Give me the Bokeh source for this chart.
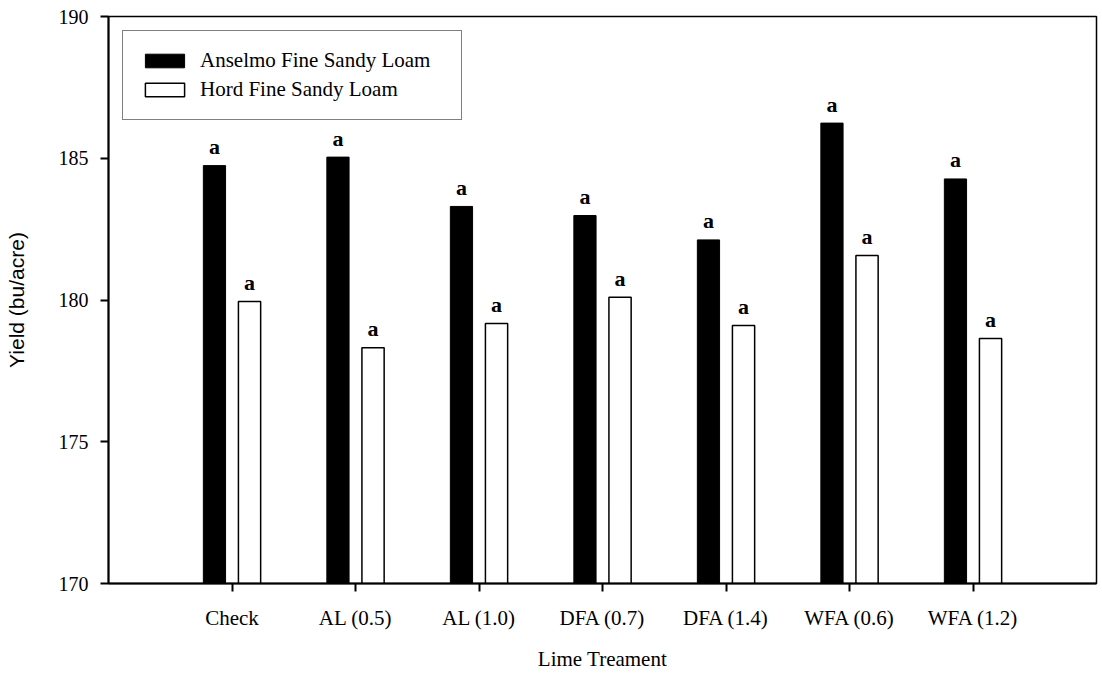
from bokeh.plotting import figure
from bokeh.models import ColumnDataSource, Range1d, FixedTicker, Legend, LegendItem
from bokeh.transform import dodge
from bokeh.core.properties import value
from bokeh.embed import file_html
from bokeh.resources import INLINE

# ---- data ----
treatments = ["Check", "AL (0.5)", "AL (1.0)", "DFA (0.7)", "DFA (1.4)", "WFA (0.6)", "WFA (1.2)"]
anselmo = [184.74, 185.04, 183.30, 182.98, 182.12, 186.24, 184.27]
hord = [179.95, 178.32, 179.17, 180.10, 179.10, 181.57, 178.64]
anselmo_letters = ["a", "a", "a", "a", "a", "a", "a"]
hord_letters = ["a", "a", "a", "a", "a", "a", "a"]
series_names = ["Anselmo Fine Sandy Loam", "Hord Fine Sandy Loam"]
y_ticks = [170, 175, 180, 185, 190]

positions = list(range(1, len(treatments) + 1))

src = ColumnDataSource(dict(
    x=positions, anselmo=anselmo, hord=hord,
    la=anselmo_letters, lh=hord_letters,
))

SERIF = "Liberation Serif"

p = figure(
    width=1100, height=673,
    x_range=Range1d(0, len(treatments) + 1),
    y_range=Range1d(170, 190),
    output_backend="svg", toolbar_location=None, tools="",
    min_border_left=108, min_border_right=4, min_border_top=16, min_border_bottom=90,
)
p.xgrid.visible = False
p.ygrid.visible = False
p.outline_line_color = "black"
p.outline_line_width = 1.5
p.background_fill_color = "white"
p.border_fill_color = "white"

bw = 0.18
off = 0.142
r1 = p.vbar(x=dodge("x", -off), top="anselmo", bottom=170, width=bw, source=src,
            fill_color="black", line_color="black", line_width=1)
r2 = p.vbar(x=dodge("x", off), top="hord", bottom=170, width=bw, source=src,
            fill_color="white", line_color="black", line_width=1.5)

p.text(x=dodge("x", -off), y="anselmo", text="la", source=src, y_offset=-19,
       text_align="center", text_baseline="alphabetic",
       text_font=value(SERIF), text_font_style="bold", text_font_size="22px", text_color="black")
p.text(x=dodge("x", off), y="hord", text="lh", source=src, y_offset=-19,
       text_align="center", text_baseline="alphabetic",
       text_font=value(SERIF), text_font_style="bold", text_font_size="22px", text_color="black")

# axes
xa = p.xaxis[0]
xa.ticker = FixedTicker(ticks=positions)
xa.major_label_overrides = {pos: name for pos, name in zip(positions, treatments)}
xa.minor_tick_line_color = None
xa.major_tick_in = 0
xa.major_tick_out = 8
xa.major_tick_line_width = 2
xa.axis_line_width = 2
xa.major_label_standoff = 14
xa.major_label_text_font = SERIF
xa.major_label_text_font_size = "21px"
xa.major_label_text_color = "black"
xa.axis_label = "Lime Treament"
xa.axis_label_text_font = SERIF
xa.axis_label_text_font_size = "21px"
xa.axis_label_text_font_style = "normal"
xa.axis_label_text_color = "black"
xa.axis_label_standoff = 14

ya = p.yaxis[0]
ya.ticker = FixedTicker(ticks=y_ticks)
ya.minor_tick_line_color = None
ya.major_tick_in = 0
ya.major_tick_out = 8
ya.major_tick_line_width = 2
ya.axis_line_width = 2
ya.major_label_standoff = 12
ya.major_label_text_font = SERIF
ya.major_label_text_font_size = "20px"
ya.major_label_text_color = "black"
ya.axis_label = "Yield (bu/acre)"
ya.axis_label_text_font = "Liberation Sans"
ya.axis_label_text_font_size = "21px"
ya.axis_label_text_font_style = "normal"
ya.axis_label_text_color = "black"
ya.axis_label_standoff = 28

legend = Legend(items=[LegendItem(label=series_names[0], renderers=[r1]),
                       LegendItem(label=series_names[1], renderers=[r2])],
                location="top_left", margin=14)
legend.padding = 17
legend.spacing = 4
legend.glyph_width = 49
legend.glyph_height = 17
legend.label_height = 17
legend.label_width = 244
legend.label_standoff = 11
legend.label_text_font = SERIF
legend.label_text_font_size = "21px"
legend.label_text_color = "black"
legend.border_line_color = "black"
legend.border_line_width = 1
legend.background_fill_alpha = 1
p.add_layout(legend)

open("out.html", "w").write(file_html(p, INLINE))
